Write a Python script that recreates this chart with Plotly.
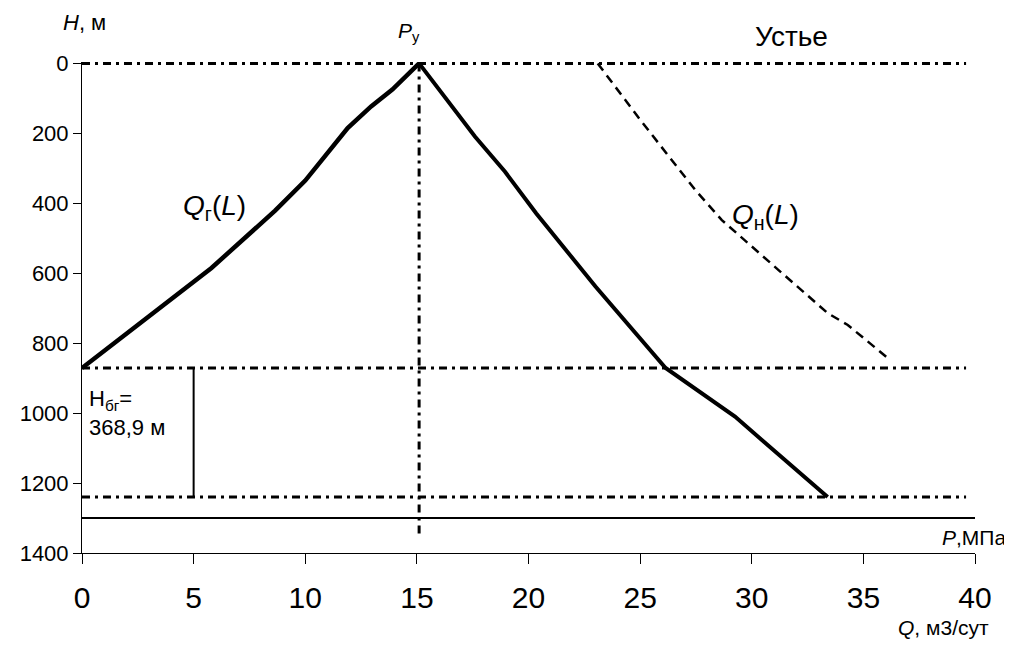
import plotly.graph_objects as go

# ---- data ----
gas_Q = [0, 5.8, 8.65, 10.0, 11.9, 12.95, 13.9, 15.1]
gas_H = [871, 585, 421, 335, 185, 123, 75, 0]

liq_Q = [15.1, 17.6, 18.95, 20.35, 23.0, 26.14, 29.25, 30.9, 33.4]
liq_H = [0, 209, 310, 429, 638, 871, 1010, 1100, 1240]

oil_Q = [23.1, 24.95, 27.47, 28.66, 31.2, 33.4, 34.3, 36.2]
oil_H = [0, 157, 362, 448, 591, 714, 748, 848]

H_wellhead = 0
H_gas = 871
H_bottom = 1240
H_base = 1300
P_wellhead = 15.1
Q_marker = 5
Q_max = 39.6
Q_axis_max = 40
H_vert_end = 1350

x_ticks = [0, 5, 10, 15, 20, 25, 30, 35, 40]
y_ticks = [0, 200, 400, 600, 800, 1000, 1200, 1400]

FONT = "Liberation Sans, Arial, sans-serif"
DASHDOT = "8px,5px,3px,5px"

fig = go.Figure()

for h in [H_wellhead, H_gas, H_bottom]:
    fig.add_trace(go.Scatter(x=[0, Q_max], y=[h, h], mode="lines",
                             line=dict(color="black", width=3, dash=DASHDOT),
                             hoverinfo="skip", showlegend=False))
fig.add_trace(go.Scatter(x=[P_wellhead, P_wellhead], y=[H_wellhead, H_vert_end], mode="lines",
                         line=dict(color="black", width=3, dash=DASHDOT),
                         hoverinfo="skip", showlegend=False))
fig.add_trace(go.Scatter(x=[0, Q_axis_max], y=[H_base, H_base], mode="lines",
                         line=dict(color="black", width=2),
                         hoverinfo="skip", showlegend=False))
fig.add_trace(go.Scatter(x=[Q_marker, Q_marker], y=[H_gas, H_bottom], mode="lines",
                         line=dict(color="black", width=2),
                         hoverinfo="skip", showlegend=False))
fig.add_trace(go.Scatter(x=gas_Q, y=gas_H, mode="lines",
                         line=dict(color="black", width=4.5), showlegend=False))
fig.add_trace(go.Scatter(x=liq_Q, y=liq_H, mode="lines",
                         line=dict(color="black", width=4), showlegend=False))
fig.add_trace(go.Scatter(x=oil_Q, y=oil_H, mode="lines",
                         line=dict(color="black", width=2.5, dash="9px,6px"),
                         showlegend=False))

# page body has an 8px margin: size the figure so the plot lands where the reference has it
fig.update_layout(
    width=1004, height=641,
    margin=dict(l=68, r=37, t=54, b=96),
    paper_bgcolor="white", plot_bgcolor="white",
    font=dict(family=FONT, color="black"),
    showlegend=False,
)
fig.update_xaxes(range=[0, Q_axis_max], tickvals=x_ticks, ticktext=[str(v) for v in x_ticks],
                 showgrid=False, zeroline=False, showline=True, linecolor="black", linewidth=1,
                 ticks="outside", ticklen=10, tickcolor="black", tickwidth=1,
                 tickfont=dict(size=30, family=FONT, color="black"), ticklabelstandoff=8)
fig.update_yaxes(range=[1400, -4], tickvals=y_ticks, ticktext=[str(v) for v in y_ticks],
                 showgrid=False, zeroline=False, showline=True, linecolor="black", linewidth=1,
                 ticks="outside", ticklen=8, tickcolor="black", tickwidth=1,
                 tickfont=dict(size=22, family=FONT, color="black"))

def ann(text, x, y, size, xanchor="center", yanchor="middle", align="left"):
    fig.add_annotation(text=text, x=x, y=y, xref="paper", yref="paper",
                       xanchor=xanchor, yanchor=yanchor, showarrow=False, align=align,
                       font=dict(size=size, family=FONT, color="black"))

L, R, T, B = 76, 975, 62, 553
def px(xp):
    return (xp - L) / (R - L)
def py(yp):
    return (B - yp) / (B - T)

ann("<i>H</i>, м", px(79), py(22), 22)
ann("<i>P</i><sub>у</sub>", px(405), py(32), 21)
ann("Устье", px(790), py(37), 28)
ann("<i>Q</i><sub>г</sub>(<i>L</i>)", px(209), py(207), 28)
ann("<i>Q</i><sub>н</sub>(<i>L</i>)", px(764), py(216), 28)
ann("Н<sub>бг</sub>=<br>368,9 м", px(81), py(413), 22, xanchor="left")
ann("<i>P</i>,МПа", px(1008), py(537), 21, xanchor="right")
ann("<i>Q</i>, м3/сут", px(991), py(627), 21, xanchor="right")

fig.write_html("out.html")
